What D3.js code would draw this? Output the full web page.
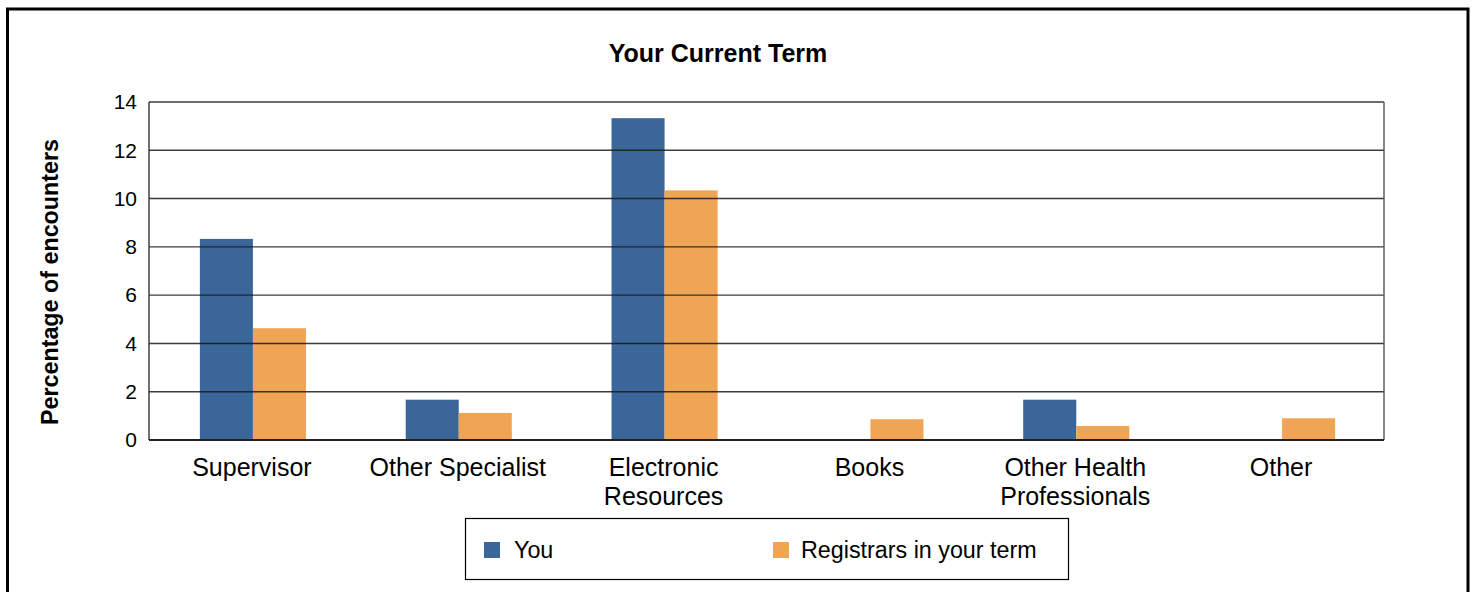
<!DOCTYPE html>
<html>
<head>
<meta charset="utf-8">
<script src="https://cdn.jsdelivr.net/npm/d3@7"></script>
<style>
  html, body { margin: 0; padding: 0; background: #fff; }
  svg { display: block; font-family: "Liberation Sans", Arial, sans-serif; }
</style>
</head>
<body>
<svg id="chart" width="1472" height="592"></svg>
<script>
// Sources consulted, share of encounters (%)
const categories = ["Supervisor", "Other Specialist", "Electronic Resources", "Books", "Other Health Professionals", "Other"];
const categoryLines = [["Supervisor"], ["Other Specialist"], ["Electronic", "Resources"], ["Books"], ["Other Health", "Professionals"], ["Other"]];
const seriesNames = ["You", "Registrars in your term"];
const youValues = [8.33, 1.67, 13.33, 0, 1.67, 0];
const registrarValues = [4.63, 1.12, 10.34, 0.86, 0.58, 0.90];
const yTicks = [0, 2, 4, 6, 8, 10, 12, 14];
const seriesColors = ["#3B6699", "#F0A455"];

const svg = d3.select("#chart");
const plot = { left: 149, right: 1384, top: 102, bottom: 440 };

// outer frame
svg.append("path")
  .attr("d", "M7.5,600 V9 H1468 V600")
  .attr("fill", "none").attr("stroke", "#000").attr("stroke-width", 3);

const x0 = d3.scaleBand().domain(categories).range([plot.left, plot.right]).padding(0);
const x1 = d3.scaleBand().domain(seriesNames).range([0, x0.bandwidth()]).paddingInner(0).paddingOuter(0.94);
const y = d3.scaleLinear().domain([0, 14]).range([plot.bottom, plot.top]);

const rows = categories.map((c, i) => ({ cat: c, vals: [youValues[i], registrarValues[i]] }));

// bars
const groups = svg.append("g").selectAll("g").data(rows).join("g")
  .attr("transform", d => `translate(${x0(d.cat) + 1},0)`);
groups.selectAll("rect")
  .data(d => d.vals.map((v, k) => ({ name: seriesNames[k], v, k })))
  .join("rect")
  .attr("x", d => x1(d.name))
  .attr("width", x1.bandwidth())
  .attr("y", d => y(d.v))
  .attr("height", d => y(0) - y(d.v))
  .attr("fill", d => seriesColors[d.k]);

// horizontal gridlines, drawn over the bars
svg.append("g").selectAll("line").data(yTicks.filter(t => t > 0)).join("line")
  .attr("x1", plot.left).attr("x2", plot.right)
  .attr("y1", d => y(d)).attr("y2", d => y(d))
  .attr("stroke", "#1a1a1a").attr("stroke-width", 1.4).attr("stroke-opacity", 0.85);

// plot frame: left axis, right edge, baseline
svg.append("line").attr("x1", plot.left).attr("x2", plot.left).attr("y1", plot.top).attr("y2", plot.bottom)
  .attr("stroke", "#333").attr("stroke-width", 1.4);
svg.append("line").attr("x1", plot.right).attr("x2", plot.right).attr("y1", plot.top).attr("y2", plot.bottom)
  .attr("stroke", "#555").attr("stroke-width", 1.4);
svg.append("line").attr("x1", plot.left).attr("x2", plot.right).attr("y1", y(0)).attr("y2", y(0))
  .attr("stroke", "#222").attr("stroke-width", 2);

// y axis labels
const yAxis = d3.axisLeft(y).tickValues(yTicks).tickSize(0).tickPadding(12);
const gy = svg.append("g").attr("transform", `translate(${plot.left},0)`).call(yAxis);
gy.select(".domain").remove();
gy.selectAll("text").attr("font-size", 21).attr("fill", "#000")
  .attr("font-family", "'Liberation Sans', Arial, sans-serif");

// x axis labels (wrapped)
const xl = svg.append("g").selectAll("text").data(categories).join("text")
  .attr("x", d => x0(d) + x0.bandwidth() / 2)
  .attr("y", 476)
  .attr("text-anchor", "middle").attr("font-size", 25).attr("fill", "#000");
xl.each(function(d, i) {
  d3.select(this).selectAll("tspan").data(categoryLines[i]).join("tspan")
    .attr("x", x0(d) + x0.bandwidth() / 2)
    .attr("dy", (t, j) => j === 0 ? 0 : 29)
    .text(t => t);
});

// title
svg.append("text").attr("x", 718).attr("y", 62).attr("text-anchor", "middle")
  .attr("font-size", 25).attr("font-weight", "bold").text("Your Current Term");

// y axis title
svg.append("text").attr("transform", "translate(58,282) rotate(-90)")
  .attr("text-anchor", "middle").attr("font-size", 23.3).attr("font-weight", "bold")
  .text("Percentage of encounters");

// legend
const lg = svg.append("g");
lg.append("rect").attr("x", 465.5).attr("y", 518.5).attr("width", 603).attr("height", 61)
  .attr("fill", "#fff").attr("stroke", "#000").attr("stroke-width", 1.2);
const legendX = [484, 773];
const legendTextX = [514, 801];
seriesNames.forEach((name, k) => {
  lg.append("rect").attr("x", legendX[k]).attr("y", 542).attr("width", 16).attr("height", 16)
    .attr("fill", seriesColors[k]);
  lg.append("text").attr("x", legendTextX[k]).attr("y", 558)
    .attr("font-size", 23.3).attr("fill", "#000").text(name);
});
</script>
</body>
</html>
